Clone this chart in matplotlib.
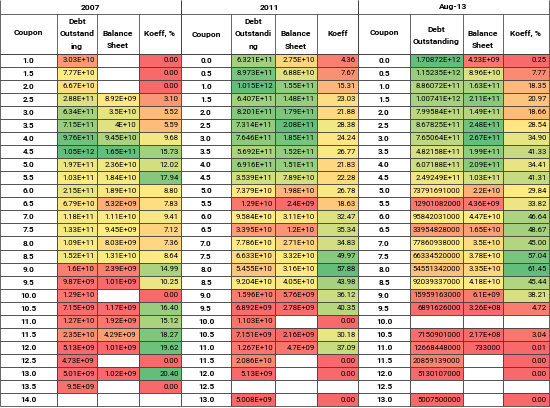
import numpy as np
import matplotlib.pyplot as plt

plt.rcParams['font.family'] = ['Roboto', 'DejaVu Sans']

# Table data (as displayed in the sheet)
years = ["2007", "2011", "Aug-13"]

coupon_2007 = [1.0, 1.5, 2.0, 2.5, 3.0, 3.5, 4.0, 4.5, 5.0, 5.5, 6.0, 6.5, 7.0, 7.5,
               8.0, 8.5, 9.0, 9.5, 10.0, 10.5, 11.0, 11.5, 12.0, 12.5, 13.0, 13.5, 14.0]
debt_2007 = ["3.03E+10", "7.77E+10", "6.67E+10", "2.88E+11", "6.34E+11", "7.15E+11", "9.76E+11",
             "1.05E+12", "1.97E+11", "1.03E+11", "2.15E+11", "6.79E+10", "1.18E+11", "1.33E+11",
             "1.09E+11", "1.52E+11", "1.6E+10", "9.87E+09", "1.29E+10", "7.15E+09", "1.27E+10",
             "2.35E+10", "5.13E+09", "4.73E+09", "5.01E+09", "9.5E+09", None]
bal_2007 = [None, None, None, "8.92E+09", "3.5E+10", "4E+10", "9.45E+10", "1.65E+11", "2.36E+10",
            "1.84E+10", "1.89E+10", "5.32E+09", "1.11E+10", "9.45E+09", "8.03E+09", "1.31E+10",
            "2.39E+09", "1.01E+09", None, "1.17E+09", "1.92E+09", "4.29E+09", "1.01E+09", None,
            "1.02E+09", None, None]
koeff_2007 = [0.00, 0.00, 0.00, 3.10, 5.52, 5.59, 9.68, 15.73, 12.02, 17.94, 8.80, 7.83, 9.41, 7.12,
              7.36, 8.64, 14.99, 10.25, 0.00, 16.40, 15.12, 18.27, 19.62, 0.00, 20.40, 0.00, None]

coupon_2011 = [0.0, 0.5, 1.0, 1.5, 2.0, 2.5, 3.0, 3.5, 4.0, 4.5, 5.0, 5.5, 6.0, 6.5,
               7.0, 7.5, 8.0, 8.5, 9.0, 9.5, 10.0, 10.5, 11.0, 11.5, 12.0, 12.5, 13.0]
debt_2011 = ["6.321E+11", "8.973E+11", "1.015E+12", "6.407E+11", "8.201E+11", "7.314E+11",
             "7.646E+11", "5.692E+11", "6.916E+11", "3.539E+11", "7.379E+10", "1.29E+10",
             "9.584E+10", "3.395E+10", "7.786E+10", "6.633E+10", "5.455E+10", "9.204E+10",
             "1.596E+10", "6.892E+09", "1.103E+10", "7.151E+09", "1.267E+10", "2.086E+10",
             "5.13E+09", None, "5.008E+09"]
bal_2011 = ["2.75E+10", "6.88E+10", "1.55E+11", "1.48E+11", "1.79E+11", "2.08E+11", "1.85E+11",
            "1.52E+11", "1.51E+11", "7.89E+10", "1.98E+10", "2.4E+09", "3.11E+10", "1.2E+10",
            "2.71E+10", "3.32E+10", "3.16E+10", "4.05E+10", "5.76E+09", "2.78E+09", None,
            "2.16E+09", "4.7E+09", None, None, None, None]
koeff_2011 = [4.36, 7.67, 15.31, 23.03, 21.88, 28.38, 24.24, 26.77, 21.83, 22.28, 26.78, 18.63,
              32.47, 35.34, 34.83, 49.97, 57.88, 43.98, 36.12, 40.35, 0.00, 30.18, 37.09, 0.00,
              0.00, None, 0.00]

coupon_2013 = coupon_2011
debt_2013 = ["1.70872E+12", "1.15235E+12", "8.86072E+11", "1.00741E+12", "7.99584E+11",
             "8.67825E+11", "7.65064E+11", "4.82158E+11", "6.07188E+11", "2.49249E+11",
             "73791691000", "12901082000", "95842031000", "33954828000", "77860938000",
             "66334520000", "54551342000", "92039337000", "15959163000", "6891626000", None,
             "7150901000", "12668448000", "20859139000", "5130107000", None, "5007500000"]
bal_2013 = ["4.23E+09", "8.96E+10", "1.63E+11", "2.11E+11", "1.49E+11", "2.48E+11", "2.67E+11",
            "1.99E+11", "2.09E+11", "1.03E+11", "2.2E+10", "4.36E+09", "4.47E+10", "1.65E+10",
            "3.5E+10", "3.78E+10", "3.35E+10", "4.18E+10", "6.1E+09", "3.26E+08", None,
            "2.17E+08", "733000", None, None, None, None]
koeff_2013 = [0.25, 7.77, 18.35, 20.97, 18.66, 28.54, 34.90, 41.33, 34.41, 41.31, 29.84, 33.82,
              46.64, 48.67, 45.00, 57.04, 61.45, 45.44, 38.21, 4.72, None, 3.04, 0.01, 0.00,
              0.00, None, 0.00]

headers_2007 = [["Coupon"], ["Debt", "Outstand", "ing"], ["Balance", "Sheet"], ["Koeff, %"]]
headers_2011 = [["Coupon"], ["Debt", "Outstandi", "ng"], ["Balance", "Sheet"], ["Koeff"]]
headers_2013 = [["Coupon"], ["Debt", "Outstanding"], ["Balance", "Sheet"], ["Koeff, %"]]

# layout (pixels)
col_edges = [[0, 57, 97, 139, 181], [181, 231, 275, 317, 358], [358, 410, 463, 503, 549]]
head_first_y = [[33, 21, 33, 33], [34, 21, 34, 34], [33, 29, 33, 33]]
row_top0, row_h, head_top = 53.5, 13.07, 14
line_gap = 12.7
fs = 5.6
edge = '#3a3a3a'

RED = np.array([248, 105, 107]) / 255
YEL = np.array([255, 235, 132]) / 255
GRN = np.array([99, 190, 123]) / 255


def to_num(v):
    if v is None:
        return np.nan
    return float(v)


def color_scale(vals):
    # Excel 3-color scale: min red, 50th percentile yellow, max green
    arr = np.array([to_num(v) for v in vals])
    ok = arr[~np.isnan(arr)]
    lo, mid, hi = ok.min(), np.percentile(ok, 50), ok.max()
    out = []
    for v in arr:
        if np.isnan(v):
            out.append((1, 1, 1))
        elif v <= mid:
            t = 0 if mid == lo else (v - lo) / (mid - lo)
            out.append(tuple(RED + t * (YEL - RED)))
        else:
            t = (v - mid) / (hi - mid)
            out.append(tuple(YEL + t * (GRN - YEL)))
    return out


blocks = [
    (coupon_2007, debt_2007, bal_2007, koeff_2007, headers_2007),
    (coupon_2011, debt_2011, bal_2011, koeff_2011, headers_2011),
    (coupon_2013, debt_2013, bal_2013, koeff_2013, headers_2013),
]

fig = plt.figure(figsize=(5.5, 4.08), dpi=100)
ax = fig.add_axes([0, 0, 1, 1])
ax.set_xlim(0, 550)
ax.set_ylim(408, 0)
ax.axis('off')

for b, (coupon, debt, bal, koeff, heads) in enumerate(blocks):
    xe = col_edges[b]
    n = len(coupon)
    yc = row_top0 + row_h * (np.arange(n) + 0.5)

    koeff_txt = [None if k is None else f"{k:.2f}" for k in koeff]
    cols = [
        ([f"{c:.1f}" for c in coupon], [(1, 1, 1)] * n),
        (debt, color_scale(debt)),
        (bal, color_scale(bal)),
        (koeff_txt, color_scale(koeff)),
    ]
    for j, (texts, colors) in enumerate(cols):
        ax.barh(yc, xe[j + 1] - xe[j], height=row_h, left=xe[j], color=colors,
                edgecolor=edge, linewidth=0.55)
        for y, s in zip(yc, texts):
            if s is None:
                continue
            if j == 0:
                ax.text((xe[0] + xe[1]) / 2, y, s, ha='center', va='center',
                        fontsize=fs + 0.3, fontweight='bold')
            else:
                ax.text(xe[j + 1] - 2.2, y, s, ha='right', va='center', fontsize=fs)

    # header row and year row
    ax.hlines([head_top, row_top0], xe[0], xe[-1], color=edge, linewidth=0.55)
    ax.vlines(xe[1:-1], head_top, row_top0, color=edge, linewidth=0.55)
    ax.vlines([xe[0], xe[-1]], 0, row_top0, color=edge, linewidth=0.55)
    for j, lines in enumerate(heads):
        cx = (xe[j] + xe[j + 1]) / 2
        for k, s in enumerate(lines):
            ax.text(cx, head_first_y[b][j] + k * line_gap, s, ha='center', va='center',
                    fontsize=fs + 0.5, fontweight='bold')
    ax.text((xe[0] + xe[-1]) / 2, 7, years[b], ha='center', va='center',
            fontsize=fs + 0.5, fontweight='bold')

fig.savefig("out.png", dpi=100)
